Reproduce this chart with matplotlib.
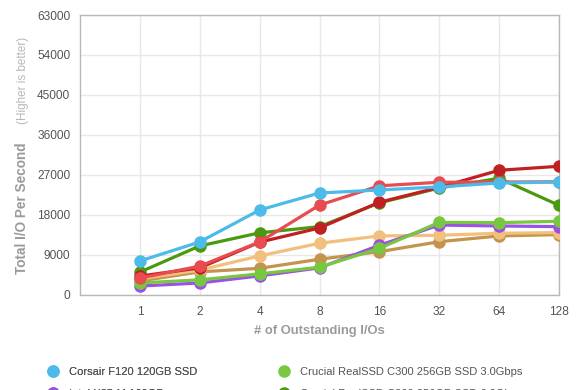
import matplotlib
matplotlib.use("Agg")
import matplotlib.pyplot as plt
from matplotlib.lines import Line2D

plt.rcParams['font.family'] = ['Liberation Sans', 'DejaVu Sans']

# outstanding I/O queue depths (categorical axis)
queue_depths = ["1", "2", "4", "8", "16", "32", "64", "128"]
y_ticks = [0, 9000, 18000, 27000, 36000, 45000, 54000, 63000]

# IOPS per drive
corsair_f120 = [7550, 11850, 19050, 22880, 23560, 24250, 25130, 25350]
intel_x25m = [1900, 2600, 4200, 6000, 11100, 15650, 15450, 15300]
crucial_c300_3g = [2600, 3300, 4650, 6150, 10400, 16250, 16200, 16500]
crucial_c300_6g = [5050, 10950, 13900, 15300, 20650, 24000, 26200, 20100]
ocz_vertex2 = [3700, 6400, 11850, 20150, 24500, 25300, 25350, 25400]
ocz_vertex_le = [4150, 6000, 11800, 15000, 20800, 24150, 28000, 28900]
kingston_v = [3500, 5500, 8700, 11550, 13200, 13350, 13800, 13950]
intel_x25e = [3050, 5100, 5900, 7950, 9650, 11900, 13200, 13500]

series = [
    ("Intel X25-E 64GB SSD", intel_x25e, "#c4944e"),
    ("Kingston SSDNow V 128GB SSD", kingston_v, "#f0c07c"),
    ("Intel X25-M 160GB", intel_x25m, "#9b50e6"),
    ("Crucial RealSSD C300 256GB SSD 3.0Gbps", crucial_c300_3g, "#77c740"),
    ("Crucial RealSSD C300 256GB SSD 6.0Gbps", crucial_c300_6g, "#4a9a10"),
    ("OCZ Vertex LE 100GB SSD", ocz_vertex_le, "#c02022"),
    ("OCZ Vertex 2 100GB SSD", ocz_vertex2, "#e84c50"),
    ("Corsair F120 120GB SSD", corsair_f120, "#4dbbea"),
]
colors = {name: c for name, _, c in series}

fig = plt.figure(figsize=(5.8, 3.9), dpi=100)
ax = fig.add_axes([80 / 580, 1 - 294.5 / 390, 479 / 580, 279.5 / 390])

xs = list(range(len(queue_depths)))
for name, vals, c in series:
    ax.plot(xs, vals, color=c, lw=2.3, marker='o', ms=8, mec=c, mfc=c,
            solid_capstyle='round', zorder=3)

ax.set_xlim(-1, len(queue_depths) - 1)
ax.set_ylim(0, 63000)
ax.set_xticks(xs)
ax.set_xticklabels(queue_depths)
ax.set_yticks(y_ticks)
ax.set_yticklabels([str(v) for v in y_ticks])
ax.tick_params(length=0, labelsize=8.6, colors='#555555')
ax.tick_params(axis='y', pad=7)
ax.tick_params(axis='x', pad=8)
ax.grid(True, color='#e8e8e8', lw=1, zorder=0)
for s in ax.spines.values():
    s.set_color('#b8b8b8')
    s.set_linewidth(1)

ax.set_xlabel("# of Outstanding I/Os", fontsize=9.4, color='#9a9a9a',
              fontweight='bold', labelpad=5)
fig.text(22 / 580, 1 - 208 / 390, "Total I/O Per Second", rotation=90,
         fontsize=9.8, color='#9a9a9a', fontweight='bold',
         ha='center', va='center')
fig.text(23 / 580, 1 - 80 / 390, "(Higher is better)", rotation=90,
         fontsize=8.4, color='#b8b8b8', ha='center', va='center')

# legend in two columns, partly cut off at the bottom like the reference
col1 = ["Corsair F120 120GB SSD", "Intel X25-M 160GB",
        "OCZ Vertex 2 100GB SSD", "OCZ Vertex LE 100GB SSD"]
col2 = ["Crucial RealSSD C300 256GB SSD 3.0Gbps",
        "Crucial RealSSD C300 256GB SSD 6.0Gbps",
        "Kingston SSDNow V 128GB SSD", "Intel X25-E 64GB SSD"]


def make_legend(names, x):
    handles = [Line2D([], [], ls='none', marker='o', ms=8,
                      mfc=colors[n], mec=colors[n]) for n in names]
    leg = fig.legend(handles, names, loc='upper left',
                     bbox_to_anchor=(x, 1 - 367 / 390), frameon=False,
                     fontsize=8.0, handlelength=0.8, handletextpad=1.0,
                     labelspacing=1.05, borderaxespad=0, borderpad=0)
    for t in leg.get_texts():
        t.set_color('#555555')
    return leg


fig.add_artist(make_legend(col1, 49 / 580))
make_legend(col2, 280 / 580)

fig.savefig("out.png", dpi=100)
